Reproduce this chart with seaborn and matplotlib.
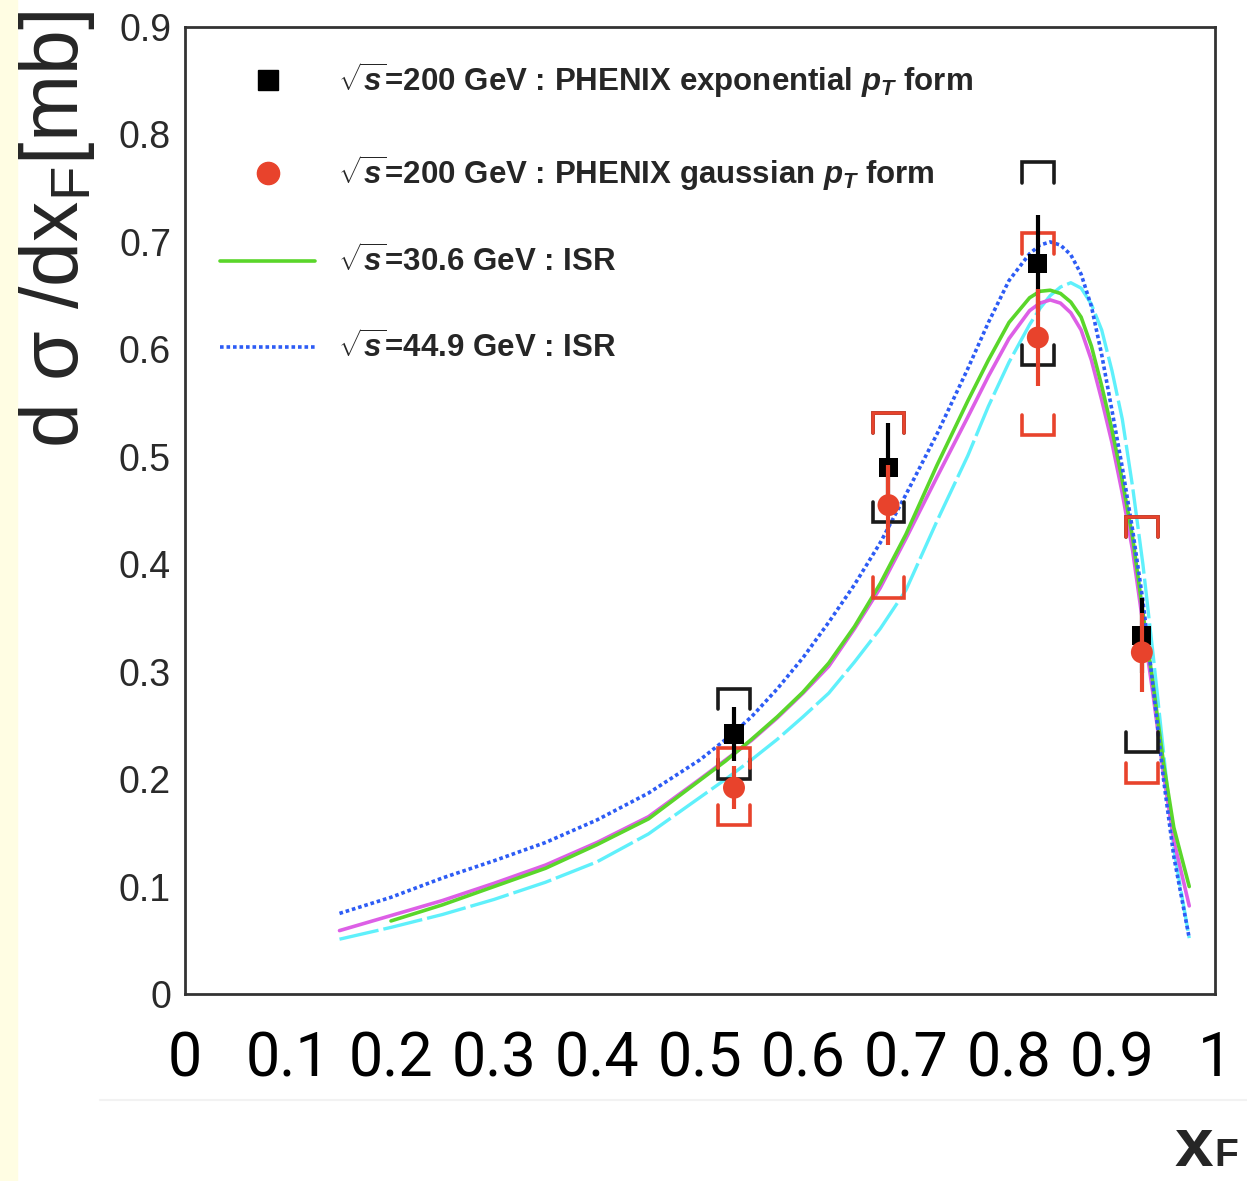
import numpy as np
import pandas as pd
import seaborn as sns
import matplotlib.pyplot as plt
from matplotlib.lines import Line2D
from matplotlib.patches import Rectangle
from matplotlib.ticker import MultipleLocator

# PHENIX points, sqrt(s)=200 GeV
xf_pts = [0.533, 0.683, 0.828, 0.929]
exp_y = [0.242, 0.490, 0.680, 0.334]
exp_stat = [0.025, 0.041, 0.045, 0.035]
exp_sys_hi = [0.284, 0.541, 0.774, 0.444]
exp_sys_lo = [0.200, 0.439, 0.585, 0.225]
gau_y = [0.192, 0.455, 0.611, 0.318]
gau_stat = [0.020, 0.037, 0.045, 0.037]
gau_sys_hi = [0.229, 0.541, 0.708, 0.444]
gau_sys_lo = [0.157, 0.369, 0.520, 0.196]

# ISR curves
xf_curve = [0.15, 0.20, 0.25, 0.30, 0.35, 0.40, 0.45, 0.50, 0.525, 0.55, 0.575, 0.60,
            0.625, 0.65, 0.675, 0.70, 0.73, 0.76, 0.78, 0.80, 0.82, 0.83, 0.84, 0.85,
            0.86, 0.87, 0.88, 0.89, 0.90, 0.91, 0.92, 0.93, 0.94, 0.95, 0.96, 0.975]
isr_449 = [0.075, 0.090, 0.108, 0.124, 0.141, 0.162, 0.187, 0.218, 0.237, 0.258, 0.284, 0.313,
           0.346, 0.381, 0.420, 0.465, 0.521, 0.582, 0.625, 0.664, 0.689, 0.697, 0.700, 0.697,
           0.688, 0.670, 0.640, 0.595, 0.543, 0.490, 0.432, 0.366, 0.285, 0.200, 0.128, 0.052]
isr_magenta = [0.059, 0.073, 0.087, 0.103, 0.120, 0.141, 0.165, 0.200, 0.218, 0.236, 0.257, 0.280,
               0.305, 0.340, 0.378, 0.424, 0.481, 0.537, 0.575, 0.610, 0.636, 0.643, 0.646, 0.643,
               0.634, 0.618, 0.590, 0.553, 0.513, 0.466, 0.413, 0.345, 0.278, 0.205, 0.143, 0.082]
isr_cyan = [0.051, 0.062, 0.074, 0.088, 0.104, 0.123, 0.149, 0.183, 0.200, 0.218, 0.237, 0.258,
            0.280, 0.309, 0.340, 0.376, 0.440, 0.501, 0.547, 0.588, 0.623, 0.638, 0.650, 0.658,
            0.662, 0.657, 0.642, 0.618, 0.580, 0.535, 0.472, 0.400, 0.315, 0.225, 0.135, 0.052]
xf_green = [0.20, 0.25, 0.30, 0.35, 0.40, 0.45, 0.50, 0.525, 0.55, 0.575, 0.60,
            0.625, 0.65, 0.675, 0.70, 0.73, 0.76, 0.78, 0.80, 0.82, 0.83, 0.84, 0.85,
            0.86, 0.87, 0.88, 0.89, 0.90, 0.91, 0.92, 0.93, 0.94, 0.95, 0.96, 0.975]
isr_306 = [0.068, 0.083, 0.100, 0.117, 0.139, 0.163, 0.199, 0.217, 0.237, 0.258, 0.281,
           0.308, 0.342, 0.382, 0.428, 0.492, 0.552, 0.590, 0.625, 0.648, 0.654, 0.655, 0.652,
           0.644, 0.630, 0.603, 0.566, 0.525, 0.478, 0.425, 0.355, 0.288, 0.215, 0.155, 0.100]

xtick_labels = ['0', '0.1', '0.2', '0.3', '0.4', '0.5', '0.6', '0.7', '0.8', '0.9', '1']
ytick_labels = ['0', '0.1', '0.2', '0.3', '0.4', '0.5', '0.6', '0.7', '0.8', '0.9']
legend_labels = [r'$\sqrt{s}$=200 GeV : PHENIX exponential $p_T$ form',
                 r'$\sqrt{s}$=200 GeV : PHENIX gaussian $p_T$ form',
                 r'$\sqrt{s}$=30.6 GeV : ISR',
                 r'$\sqrt{s}$=44.9 GeV : ISR']

sns.set_style('white')
plt.rcParams['font.family'] = ['Liberation Sans', 'DejaVu Sans']
plt.rcParams['mathtext.fontset'] = 'custom'
plt.rcParams['mathtext.rm'] = 'Liberation Sans:bold'
plt.rcParams['mathtext.it'] = 'Liberation Sans:italic:bold'
plt.rcParams['mathtext.bf'] = 'Liberation Sans:bold'

red = '#e8432c'
blue = '#2d5cf5'
green = '#5ad62a'
magenta = '#dd5fe6'
cyan = '#5ff0fb'

fig = plt.figure(figsize=(12.47, 11.81), dpi=100)
fig.add_artist(Rectangle((0, 0), 17 / 1247, 1, transform=fig.transFigure,
                         color='#fffde3', zorder=0))
fig.add_artist(Line2D([100 / 1247, 1], [1 - 1100 / 1181] * 2, transform=fig.transFigure,
                      color='#f2f2f2', lw=1.5))
ax = fig.add_axes([185 / 1247, 1 - 994 / 1181, 1030 / 1247, 967 / 1181])

# curves
sns.lineplot(x=xf_curve, y=isr_cyan, ax=ax, sort=False, estimator=None,
             color=cyan, lw=2.4, linestyle=(0, (12, 1.5)))
sns.lineplot(x=xf_curve, y=isr_magenta, ax=ax, sort=False, estimator=None,
             color=magenta, lw=2.6)
sns.lineplot(x=xf_green, y=isr_306, ax=ax, sort=False, estimator=None,
             color=green, lw=2.6)
sns.lineplot(x=xf_curve, y=isr_449, ax=ax, sort=False, estimator=None,
             color=blue, lw=2.6, linestyle=(0, (1, 0.8)))

# systematic brackets
w, arm = 0.0155, 0.019
def brackets(xs, lo, hi, col):
    for xi, l, h in zip(xs, lo, hi):
        ax.plot([xi - w, xi - w, xi + w, xi + w], [h - arm, h, h, h - arm],
                color=col, lw=2.6, solid_joinstyle='miter', zorder=4)
        ax.plot([xi - w, xi - w, xi + w, xi + w], [l + arm, l, l, l + arm],
                color=col, lw=2.6, solid_joinstyle='miter', zorder=4)

brackets(xf_pts, exp_sys_lo, exp_sys_hi, '#1a1a1a')
ax.errorbar(xf_pts, exp_y, yerr=exp_stat, fmt='none', ecolor='black', elinewidth=3, zorder=5)
sns.scatterplot(x=xf_pts, y=exp_y, ax=ax, marker='s', s=190, color='black',
                edgecolor='none', zorder=6)
brackets(xf_pts, gau_sys_lo, gau_sys_hi, red)
ax.errorbar(xf_pts, gau_y, yerr=gau_stat, fmt='none', ecolor=red, elinewidth=3, zorder=7)
sns.scatterplot(x=xf_pts, y=gau_y, ax=ax, marker='o', s=250, color=red,
                edgecolor='none', zorder=8)

ax.set_xlim(0, 1)
ax.set_ylim(0, 0.9)
ax.set_xticks(np.arange(0, 1.01, 0.1), xtick_labels)
ax.set_yticks(np.arange(0, 0.91, 0.1), ytick_labels)
ax.xaxis.set_minor_locator(MultipleLocator(0.02))
ax.yaxis.set_minor_locator(MultipleLocator(0.02))
ax.tick_params(which='both', direction='in', top=False, right=False, color='#333333', width=1.5)
ax.tick_params(axis='y', which='major', length=24, labelsize=27, pad=10, labelcolor='#2a2a2a')
ax.tick_params(axis='y', which='minor', length=12)
ax.tick_params(axis='x', which='major', length=19, labelsize=44, pad=26, labelcolor='black')
ax.tick_params(axis='x', which='minor', length=9)
for lab in ax.get_xticklabels():
    lab.set_family(['Roboto', 'Liberation Sans'])
    lab.set_fontweight('normal')
for sp in ax.spines.values():
    sp.set_color('#333333')
    sp.set_linewidth(2)
ax.set_xlabel('')
ax.set_ylabel('')

handles = [Line2D([], [], marker='s', ms=14, color='black', ls='none'),
           Line2D([], [], marker='o', ms=16, color=red, ls='none'),
           Line2D([], [], color=green, lw=2.6),
           Line2D([], [], color=blue, lw=2.6, ls=(0, (1, 0.8)))]
ax.legend(handles, legend_labels, loc='upper left', bbox_to_anchor=(0.034, 0.966),
          frameon=False, prop={'size': 22.5, 'weight': 'bold'}, labelspacing=1.7,
          handlelength=3.04, handletextpad=0.74, borderpad=0, borderaxespad=0)

fig.text(57 / 1247, 1 - 230 / 1181, 'd σ /dx$_\\mathregular{F}$[mb]', rotation=90,
         ha='center', va='center', fontsize=58, family='Liberation Sans')
fig.text(1213 / 1247, 1 - 1166 / 1181, 'x', ha='right', va='baseline',
         fontsize=50, fontweight='bold')
fig.text(1214 / 1247, 1 - 1166 / 1181, 'F', ha='left', va='baseline',
         fontsize=28, fontweight='bold')

fig.savefig('out.png', dpi=100)
